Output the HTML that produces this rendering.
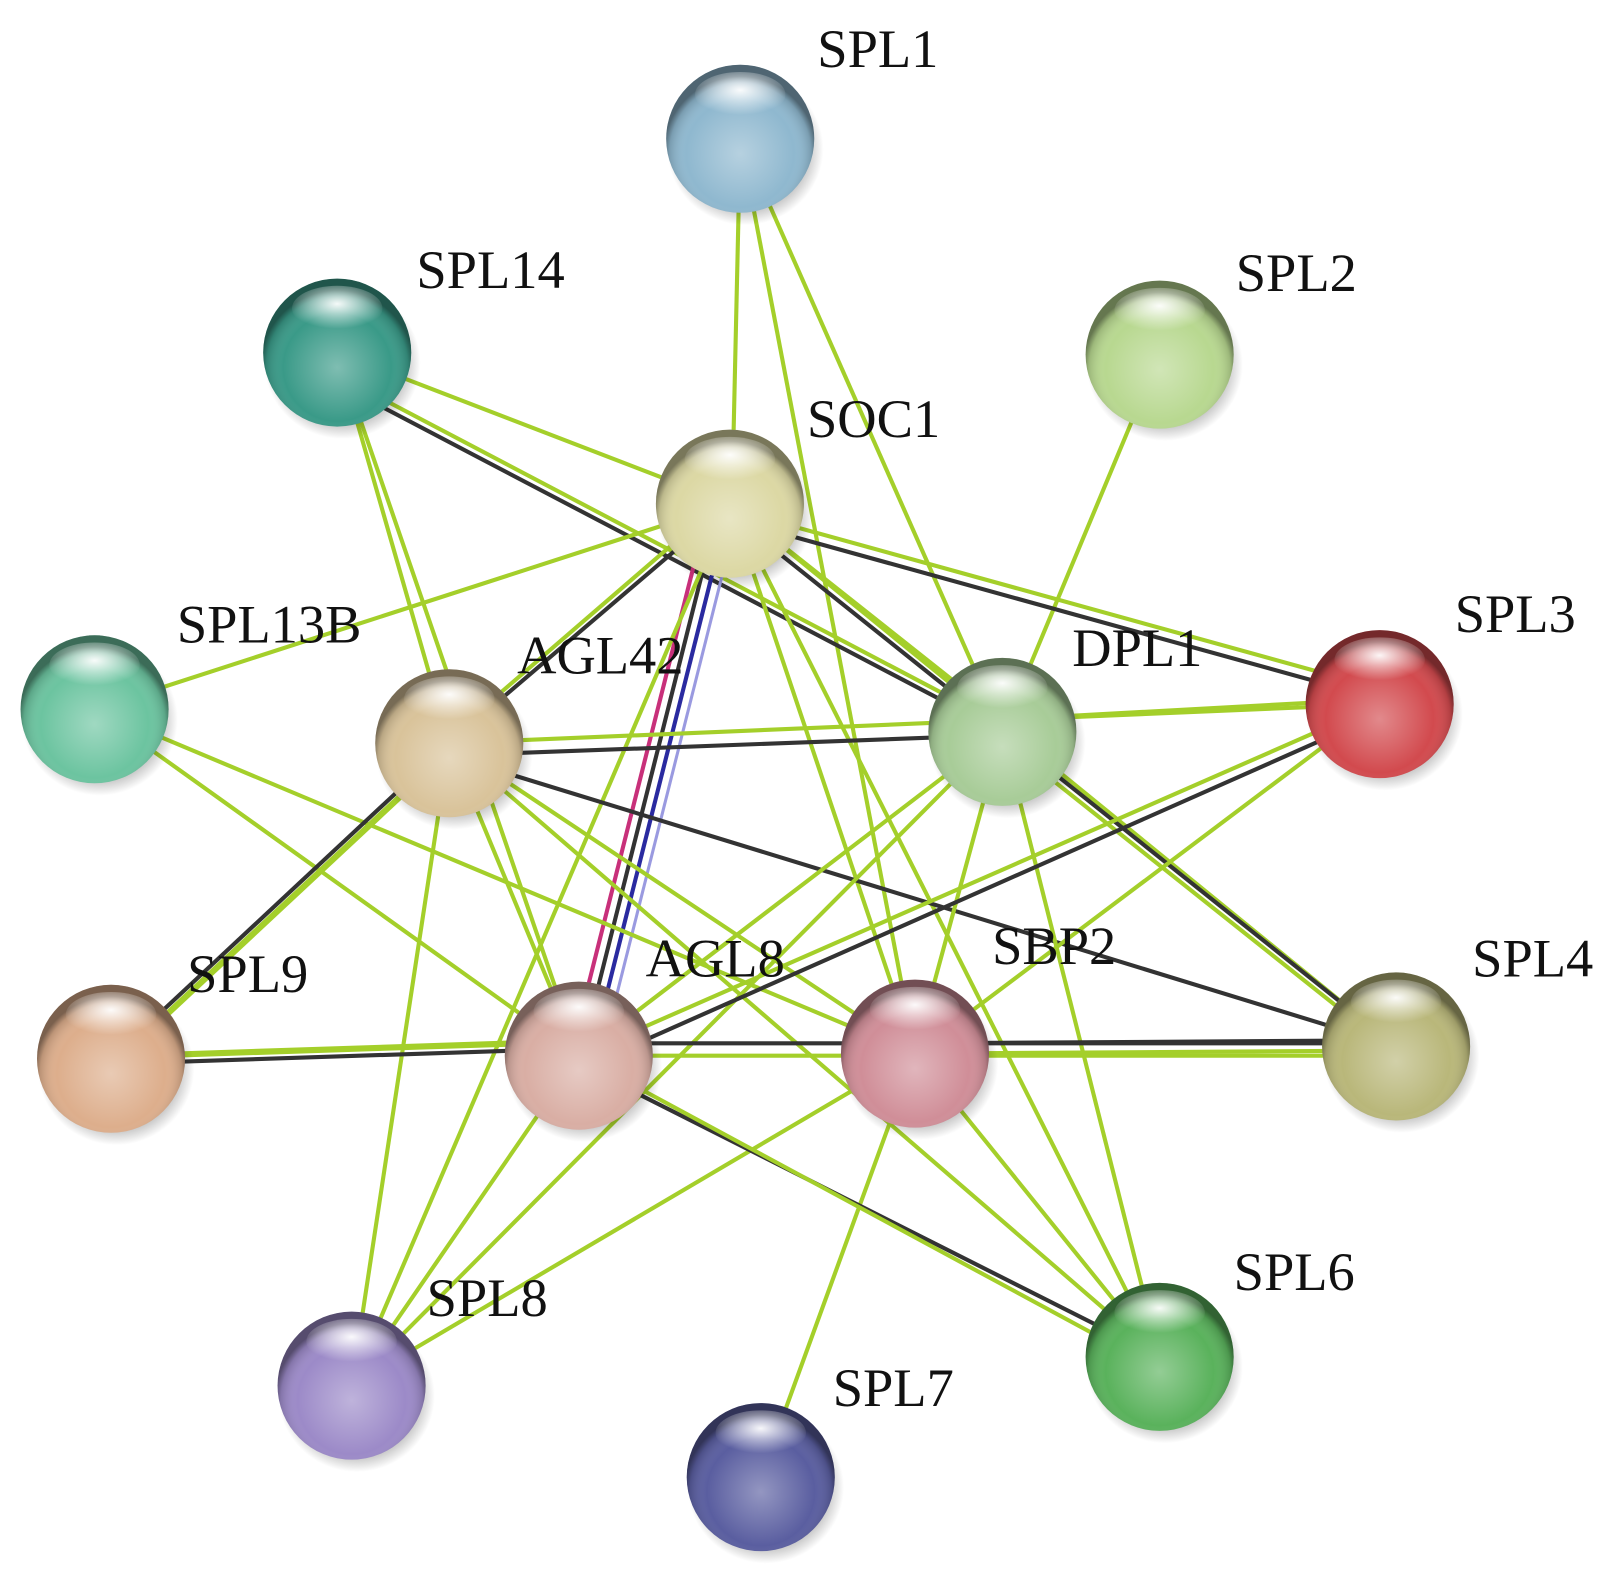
<!DOCTYPE html>
<html><head><meta charset="utf-8"><style>
html,body{margin:0;padding:0;background:#fff;}
svg{display:block;}
text{font-family:"Liberation Serif",serif;font-size:53px;fill:#111;}
.g{stroke:#a4cf2a;stroke-width:4;fill:none;}
.k{stroke:#333;stroke-width:4;fill:none;}
.hl{fill:url(#hl);}
.sd{fill:url(#sd);}
</style></head><body>
<svg width="1612" height="1582" viewBox="0 0 1568 1539" preserveAspectRatio="none" xmlns="http://www.w3.org/2000/svg">
<defs>
<radialGradient id="hl" cx="50%" cy="40%" r="55%"><stop offset="0" stop-color="#fff" stop-opacity="0.95"/><stop offset="1" stop-color="#fff" stop-opacity="0"/></radialGradient>
<radialGradient id="sd" cx="50%" cy="60%" r="52%"><stop offset="0" stop-color="#fff" stop-opacity="0.35"/><stop offset="0.7" stop-color="#fff" stop-opacity="0"/><stop offset="0.92" stop-color="#000" stop-opacity="0.15"/><stop offset="1" stop-color="#000" stop-opacity="0.45"/></radialGradient>
<radialGradient id="shd" cx="50%" cy="50%" r="50%"><stop offset="0.6" stop-color="#000" stop-opacity="0.45"/><stop offset="1" stop-color="#000" stop-opacity="0"/></radialGradient>
</defs>
<g>
<line class="g" x1="720" y1="135" x2="712" y2="490"/>
<line class="g" x1="720" y1="135" x2="975" y2="712"/>
<line class="g" x1="720" y1="135" x2="890" y2="1025"/>
<line class="g" x1="328" y1="343" x2="710" y2="490"/>
<line class="k" x1="328" y1="373" x2="975" y2="712"/>
<line class="g" x1="328" y1="365" x2="975" y2="705"/>
<line class="g" x1="328" y1="343" x2="437" y2="723"/>
<line class="g" x1="328" y1="343" x2="563" y2="1027"/>
<line class="g" x1="1128" y1="345" x2="975" y2="712"/>
<line class="g" x1="710" y1="490" x2="92" y2="690"/>
<line class="k" x1="710" y1="490" x2="437" y2="723"/>
<line class="g" x1="700" y1="490" x2="430" y2="723"/>
<line stroke="#c8307a" stroke-width="4" x1="690" y1="490" x2="555" y2="1027"/>
<line class="k" x1="700" y1="490" x2="565" y2="1027"/>
<line stroke="#2a2aa0" stroke-width="4" x1="710" y1="490" x2="575" y2="1027"/>
<line stroke="#9a9ae0" stroke-width="3" x1="720" y1="490" x2="585" y2="1027"/>
<line class="k" x1="710" y1="500" x2="975" y2="712"/>
<line class="g" x1="710" y1="490" x2="975" y2="700"/>
<line class="k" x1="710" y1="505" x2="1342" y2="680"/>
<line class="g" x1="710" y1="495" x2="1342" y2="670"/>
<line class="g" x1="710" y1="490" x2="890" y2="1025"/>
<line class="g" x1="710" y1="490" x2="1358" y2="1018"/>
<line class="g" x1="710" y1="490" x2="1128" y2="1320"/>
<line class="g" x1="710" y1="490" x2="342" y2="1348"/>
<line class="g" x1="92" y1="690" x2="563" y2="1027"/>
<line class="g" x1="92" y1="690" x2="890" y2="1025"/>
<line class="g" x1="437" y1="723" x2="1342" y2="685"/>
<line class="k" x1="437" y1="735" x2="975" y2="715"/>
<line class="k" x1="437" y1="723" x2="108" y2="1030"/>
<line class="g" x1="445" y1="723" x2="116" y2="1030" style="stroke-width:6"/>
<line class="k" x1="437" y1="735" x2="1358" y2="1018"/>
<line class="g" x1="437" y1="723" x2="563" y2="1027"/>
<line class="g" x1="437" y1="723" x2="342" y2="1348"/>
<line class="g" x1="437" y1="723" x2="890" y2="1025"/>
<line class="g" x1="437" y1="723" x2="1128" y2="1320"/>
<line class="g" x1="975" y1="700" x2="1342" y2="680"/>
<line class="k" x1="975" y1="712" x2="1358" y2="1018"/>
<line class="g" x1="975" y1="720" x2="1358" y2="1025"/>
<line class="g" x1="975" y1="712" x2="563" y2="1027"/>
<line class="g" x1="975" y1="712" x2="890" y2="1025"/>
<line class="g" x1="975" y1="712" x2="1128" y2="1320"/>
<line class="g" x1="975" y1="712" x2="342" y2="1348"/>
<line class="g" x1="1342" y1="685" x2="563" y2="1027"/>
<line class="k" x1="1342" y1="695" x2="575" y2="1035"/>
<line class="g" x1="1342" y1="685" x2="890" y2="1025"/>
<line class="k" x1="890" y1="1015" x2="1358" y2="1012"/>
<line class="g" x1="890" y1="1025" x2="1358" y2="1022"/>
<line class="g" x1="890" y1="1025" x2="1128" y2="1320"/>
<line class="g" x1="890" y1="1025" x2="740" y2="1437"/>
<line class="g" x1="890" y1="1025" x2="342" y2="1348"/>
<line class="k" x1="108" y1="1035" x2="563" y2="1020"/>
<line class="g" x1="108" y1="1028" x2="563" y2="1013" style="stroke-width:6"/>
<line class="k" x1="563" y1="1015" x2="1358" y2="1015"/>
<line class="g" x1="563" y1="1027" x2="1358" y2="1027"/>
<line class="g" x1="563" y1="1027" x2="342" y2="1348"/>
<line class="k" x1="563" y1="1035" x2="1128" y2="1320"/>
<line class="g" x1="563" y1="1027" x2="1120" y2="1328"/>
</g>
<!-- nodes -->
<g>
<ellipse cx="725" cy="145" rx="76" ry="74" fill="url(#shd)"/><circle cx="720" cy="135" r="72" fill="#8fb8cf"/><circle cx="720" cy="135" r="72" class="sd"/><ellipse cx="720" cy="92" rx="44" ry="22" class="hl"/>
<ellipse cx="333" cy="353" rx="76" ry="74" fill="url(#shd)"/><circle cx="328" cy="343" r="72" fill="#3a9a88"/><circle cx="328" cy="343" r="72" class="sd"/><ellipse cx="328" cy="300" rx="44" ry="22" class="hl"/>
<ellipse cx="1133" cy="355" rx="76" ry="74" fill="url(#shd)"/><circle cx="1128" cy="345" r="72" fill="#b8d890"/><circle cx="1128" cy="345" r="72" class="sd"/><ellipse cx="1128" cy="302" rx="44" ry="22" class="hl"/>
<ellipse cx="715" cy="500" rx="76" ry="74" fill="url(#shd)"/><circle cx="710" cy="490" r="72" fill="#dcd8a4"/><circle cx="710" cy="490" r="72" class="sd"/><ellipse cx="710" cy="447" rx="44" ry="22" class="hl"/>
<ellipse cx="97" cy="700" rx="76" ry="74" fill="url(#shd)"/><circle cx="92" cy="690" r="72" fill="#6cc4a0"/><circle cx="92" cy="690" r="72" class="sd"/><ellipse cx="92" cy="647" rx="44" ry="22" class="hl"/>
<ellipse cx="442" cy="733" rx="76" ry="74" fill="url(#shd)"/><circle cx="437" cy="723" r="72" fill="#d9c39a"/><circle cx="437" cy="723" r="72" class="sd"/><ellipse cx="437" cy="680" rx="44" ry="22" class="hl"/>
<ellipse cx="980" cy="722" rx="76" ry="74" fill="url(#shd)"/><circle cx="975" cy="712" r="72" fill="#a8cc98"/><circle cx="975" cy="712" r="72" class="sd"/><ellipse cx="975" cy="669" rx="44" ry="22" class="hl"/>
<ellipse cx="1347" cy="695" rx="76" ry="74" fill="url(#shd)"/><circle cx="1342" cy="685" r="72" fill="#d24a4e"/><circle cx="1342" cy="685" r="72" class="sd"/><ellipse cx="1342" cy="642" rx="44" ry="22" class="hl"/>
<ellipse cx="113" cy="1040" rx="76" ry="74" fill="url(#shd)"/><circle cx="108" cy="1030" r="72" fill="#ddae8c"/><circle cx="108" cy="1030" r="72" class="sd"/><ellipse cx="108" cy="987" rx="44" ry="22" class="hl"/>
<ellipse cx="568" cy="1037" rx="76" ry="74" fill="url(#shd)"/><circle cx="563" cy="1027" r="72" fill="#d9aea4"/><circle cx="563" cy="1027" r="72" class="sd"/><ellipse cx="563" cy="984" rx="44" ry="22" class="hl"/>
<ellipse cx="895" cy="1035" rx="76" ry="74" fill="url(#shd)"/><circle cx="890" cy="1025" r="72" fill="#d08e98"/><circle cx="890" cy="1025" r="72" class="sd"/><ellipse cx="890" cy="982" rx="44" ry="22" class="hl"/>
<ellipse cx="1363" cy="1028" rx="76" ry="74" fill="url(#shd)"/><circle cx="1358" cy="1018" r="72" fill="#b9b77a"/><circle cx="1358" cy="1018" r="72" class="sd"/><ellipse cx="1358" cy="975" rx="44" ry="22" class="hl"/>
<ellipse cx="347" cy="1358" rx="76" ry="74" fill="url(#shd)"/><circle cx="342" cy="1348" r="72" fill="#9c8ac8"/><circle cx="342" cy="1348" r="72" class="sd"/><ellipse cx="342" cy="1305" rx="44" ry="22" class="hl"/>
<ellipse cx="1133" cy="1330" rx="76" ry="74" fill="url(#shd)"/><circle cx="1128" cy="1320" r="72" fill="#5ab25c"/><circle cx="1128" cy="1320" r="72" class="sd"/><ellipse cx="1128" cy="1277" rx="44" ry="22" class="hl"/>
<ellipse cx="745" cy="1447" rx="76" ry="74" fill="url(#shd)"/><circle cx="740" cy="1437" r="72" fill="#5a5ea0"/><circle cx="740" cy="1437" r="72" class="sd"/><ellipse cx="740" cy="1394" rx="44" ry="22" class="hl"/>
</g>
<g>
<text x="795" y="65">SPL1</text>
<text x="405" y="280">SPL14</text>
<text x="1202" y="283">SPL2</text>
<text x="785" y="425">SOC1</text>
<text x="172" y="625">SPL13B</text>
<text x="503" y="655">AGL42</text>
<text x="1043" y="648">DPL1</text>
<text x="1415" y="615">SPL3</text>
<text x="182" y="965">SPL9</text>
<text x="628" y="950">AGL8</text>
<text x="965" y="938">SBP2</text>
<text x="1432" y="950">SPL4</text>
<text x="415" y="1280">SPL8</text>
<text x="1200" y="1255">SPL6</text>
<text x="810" y="1368">SPL7</text>
</g>
</svg>
</body></html>
